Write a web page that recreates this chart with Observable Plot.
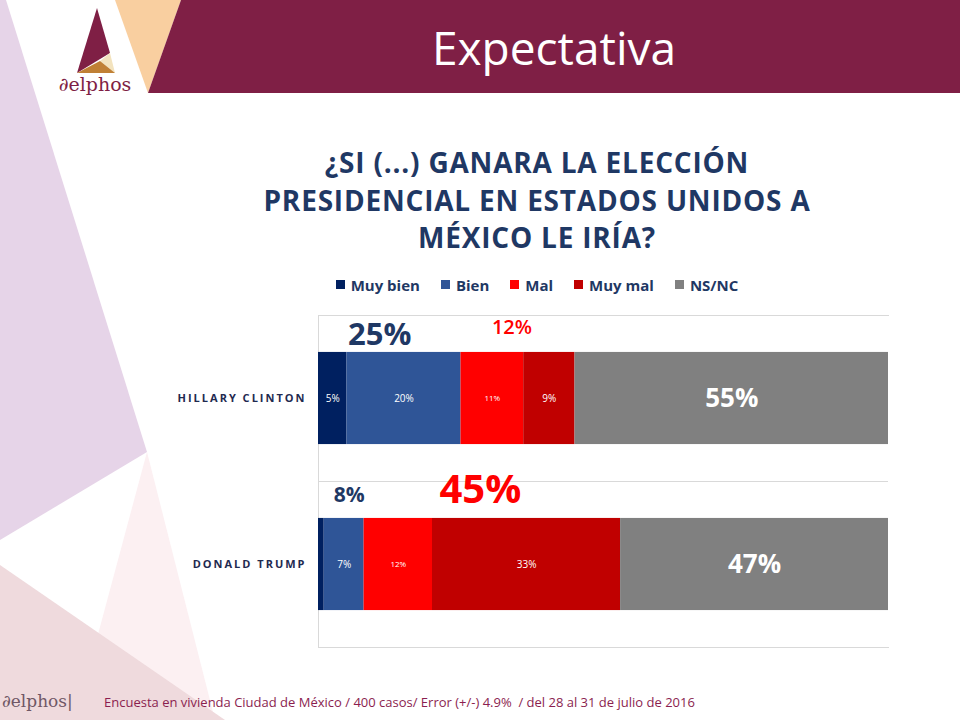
<!DOCTYPE html>
<html>
<head>
<meta charset="utf-8">
<script src="https://cdn.jsdelivr.net/npm/d3@7"></script>
<script src="https://cdn.jsdelivr.net/npm/@observablehq/plot@0.6"></script>
<style>
  body { margin: 0; background: #fff; }
  #page { position: relative; width: 960px; height: 720px; overflow: hidden; font-family: "Open Sans", sans-serif; }
  #deco { position: absolute; left: 0; top: 0; }
  #header { position: absolute; left: 148px; right: 0; top: 0; height: 93px; display: flex; align-items: center; justify-content: center; color: #fff; font-size: 46px; }
  #question { position: absolute; left: 114px; width: 846px; top: 144px; text-align: center; color: #1F3864; font-weight: 700; font-size: 28px; letter-spacing: 0.8px; line-height: 37.5px; }
  #legend { position: absolute; left: 114px; width: 846px; top: 268px; display: flex; justify-content: center; }
  .leg-swatches { display: flex; align-items: center; font-family: "Open Sans", sans-serif; font-size: 15px; font-weight: 700; color: #1F3864; }
  .leg-swatch { margin-right: 21px !important; }
  .leg-swatch:last-child { margin-right: 0 !important; }
  .leg-swatch svg { margin-right: 6px !important; }
  #chart { position: absolute; left: 0; top: 300px; }
  #chart g[aria-label="y-axis tick label"] text { letter-spacing: 2px; }
  #footer { position: absolute; left: 104px; top: 693px; color: #8B1E4F; font-size: 13px; letter-spacing: 0px; white-space: pre; }
  #brand { position: absolute; left: 2px; top: 691px; color: #6F5766; font-family: "DejaVu Serif", serif; font-size: 17px; }
</style>
</head>
<body>
<div id="page">
  <svg id="deco" width="960" height="720">
    <polygon points="0,0 6,0 147,452 0,540" fill="#E6D4E8"/>
    <polygon points="147,452 75,720 215,720" fill="#FCF0F2"/>
    <polygon points="0,565 225,720 0,720" fill="#EFDADD"/>
    <polygon points="115,0 181,0 148,93" fill="#F9CFA0"/>
    <polygon points="181,0 960,0 960,93 148,93" fill="#7F1F45"/>
    <polygon points="97,8 110,53 77,73" fill="#7F1F45"/>
    <polygon points="110,53 100,61 115,73" fill="#F3E3BE"/>
    <polygon points="100,61 77,73 115,73" fill="#C08035"/>
    <text x="95" y="91" text-anchor="middle" font-family="DejaVu Serif, serif" font-size="19" fill="#7F1F45">∂elphos</text>
  </svg>
  <div id="header">Expectativa</div>
  <div id="question">¿SI (...) GANARA LA ELECCIÓN<br>PRESIDENCIAL EN ESTADOS UNIDOS A<br>MÉXICO LE IRÍA?</div>
  <div id="legend"></div>
  <div id="chart"></div>
  <div id="brand">∂elphos|</div>
  <div id="footer">Encuesta en vivienda Ciudad de México / 400 casos/ Error (+/-) 4.9%  / del 28 al 31 de julio de 2016</div>
</div>
<script>
// Survey answers, percentages by candidate
const candidates = ["HILLARY CLINTON", "DONALD TRUMP"];
const responses = ["Muy bien", "Bien", "Mal", "Muy mal", "NS/NC"];
const clinton = [5, 20, 11, 9, 55];
const trump = [1, 7, 12, 33, 47];
// Group totals printed above each bar
const favorableLabels = [25, 8];
const unfavorableLabels = [12, 45];
const colors = ["#002060", "#2F5597", "#FF0000", "#C00000", "#808080"];

const series = [clinton, trump];
const rows = candidates.flatMap((c, i) =>
  responses.map((r, j) => ({candidate: c, response: r, value: series[i][j]}))
);

// favourable block = Muy bien + Bien, unfavourable = Mal + Muy mal
const groups = candidates.map((c, i) => {
  const v = series[i];
  return {
    candidate: c,
    favMid: (v[0] + v[1]) / 2,
    unfavMid: v[0] + v[1] + (v[2] + v[3]) / 2,
    fav: favorableLabels[i],
    unfav: unfavorableLabels[i]
  };
});

const width = 960, height = 360, mt = 15, mb = 13;
const step = (height - mt - mb) / candidates.length;
const inset = step * (1 - 0.555) / 2;
const navy = "#1F3864";

const color = {domain: responses, range: colors};
const stack = (opts) => Plot.stackX({x: "value", y: "candidate", z: "response", order: responses, ...opts});
const label = (pick) => (d) => pick(d) ? d.value + "%" : null;

const chart = Plot.plot({
  width, height,
  marginTop: mt, marginBottom: mb, marginLeft: 318, marginRight: 72,
  style: {fontFamily: "Open Sans, sans-serif", background: "transparent"},
  x: {domain: [0, 100], axis: null},
  y: {domain: candidates, padding: 0, label: null},
  color,
  marks: [
    Plot.frame({anchor: "top", stroke: "#D9D9D9"}),
    Plot.frame({anchor: "bottom", stroke: "#D9D9D9"}),
    Plot.frame({anchor: "left", stroke: "#D9D9D9"}),
    Plot.ruleY(candidates.slice(1), {dy: -step / 2, stroke: "#D9D9D9"}),
    Plot.barX(rows, stack({fill: "response", insetTop: inset, insetBottom: inset})),
    Plot.text(rows, stack({text: label(d => d.value > 1 && (d.response === "Muy bien" || d.response === "Bien" || d.response === "Muy mal")), fill: "white", fontSize: 10})),
    Plot.text(rows, stack({text: label(d => d.response === "Mal"), fill: "white", fontSize: 8})),
    Plot.text(rows, stack({text: label(d => d.response === "NS/NC"), fill: "white", fontSize: 26, fontWeight: 700})),
    Plot.text(groups.slice(0, 1), {x: "favMid", y: "candidate", text: d => d.fav + "%", fill: navy, fontSize: 31, fontWeight: 700, dy: -63, dx: -10}),
    Plot.text(groups.slice(1), {x: "favMid", y: "candidate", text: d => d.fav + "%", fill: navy, fontSize: 21, fontWeight: 700, dy: -69, dx: 8}),
    Plot.text(groups.slice(0, 1), {x: "unfavMid", y: "candidate", text: d => d.unfav + "%", fill: "#FF0000", fontSize: 20, fontWeight: 600, dy: -71, dx: -6}),
    Plot.text(groups.slice(1), {x: "unfavMid", y: "candidate", text: d => d.unfav + "%", fill: "#FF0000", fontSize: 40, fontWeight: 700, dy: -74, dx: -12}),
    Plot.axisY({tickSize: 0, tickPadding: 12, fontSize: 11, fontWeight: 700, fill: "#1F2A50", label: null})
  ]
});
document.getElementById("chart").append(chart);

const legend = Plot.legend({color, legend: "swatches", swatchSize: 9, className: "leg"});
document.getElementById("legend").append(legend);
</script>
</body>
</html>
